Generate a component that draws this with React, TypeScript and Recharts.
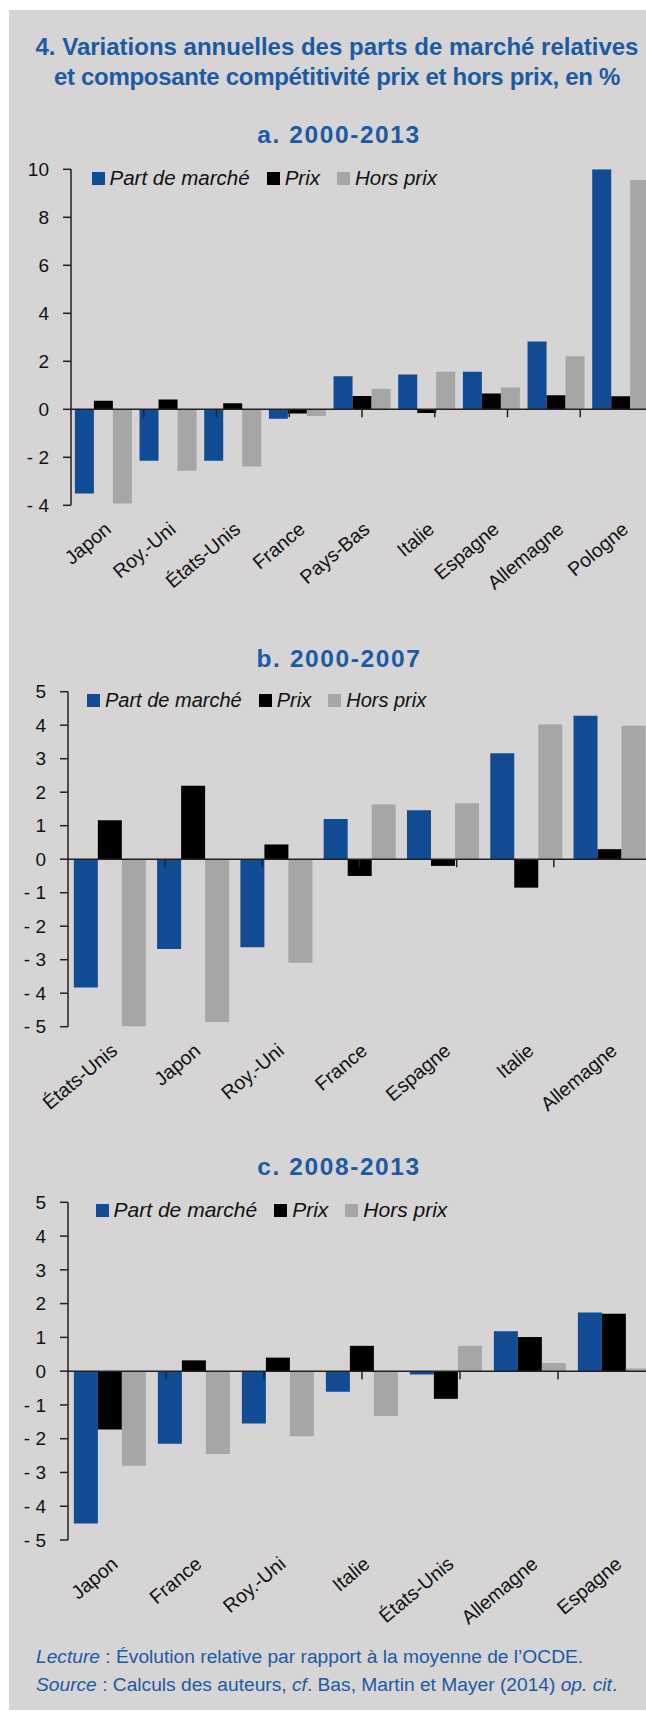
import React from 'react';
import { BarChart, Bar, XAxis, YAxis, ReferenceLine, ReferenceDot, Legend } from 'recharts';

const BLUE = '#114b93';
const BLACK = '#000000';
const GREY = '#a6a6a6';
const TEXT_BLUE = '#1c5aa2';
const BG = '#d6d4d5';
const FONT = '"Liberation Sans", Arial, sans-serif';

// a. 2000-2013
const countriesA = ['Japon', 'Roy.-Uni', 'États-Unis', 'France', 'Pays-Bas', 'Italie', 'Espagne', 'Allemagne', 'Pologne'];
const partA = [-3.51, -2.14, -2.14, -0.39, 1.38, 1.45, 1.56, 2.82, 10.0];
const prixA = [0.36, 0.41, 0.25, -0.17, 0.55, -0.15, 0.66, 0.59, 0.54];
const horsA = [-3.93, -2.56, -2.38, -0.28, 0.86, 1.56, 0.91, 2.21, 9.55];
const ticksA = [-4, -2, 0, 2, 4, 6, 8, 10];

// b. 2000-2007
const countriesB = ['États-Unis', 'Japon', 'Roy.-Uni', 'France', 'Espagne', 'Italie', 'Allemagne'];
const partB = [-3.83, -2.68, -2.63, 1.2, 1.46, 3.16, 4.28];
const prixB = [1.16, 2.19, 0.44, -0.5, -0.2, -0.85, 0.3];
const horsB = [-4.99, -4.86, -3.09, 1.63, 1.67, 4.02, 3.98];
const ticksB = [-5, -4, -3, -2, -1, 0, 1, 2, 3, 4, 5];

// c. 2008-2013
const countriesC = ['Japon', 'France', 'Roy.-Uni', 'Italie', 'États-Unis', 'Allemagne', 'Espagne'];
const partC = [-4.51, -2.15, -1.55, -0.61, -0.1, 1.18, 1.74];
const prixC = [-1.73, 0.32, 0.4, 0.75, -0.82, 1.01, 1.7];
const horsC = [-2.8, -2.45, -1.93, -1.33, 0.75, 0.24, 0.08];
const ticksC = [-5, -4, -3, -2, -1, 0, 1, 2, 3, 4, 5];

const seriesOrder = ['part', 'prix', 'hors'];

const build = (names: string[], part: number[], prix: number[], hors: number[]) =>
  names.map((name, i) => ({ name, part: part[i], prix: prix[i], hors: hors[i] }));

const fmtY = (v: number) => (v < 0 ? `- ${Math.abs(v)}` : `${v}`);

// labels slanted ~40°, ending just under the category
const RotTick = (props: any) => {
  const { x, y, payload } = props;
  return (
    <g transform={`translate(${x + 9},${y + 26})`}>
      <text transform="rotate(-40)" textAnchor="end" fontSize={19.5} fill="#111" fontFamily={FONT}>
        {payload.value}
      </text>
    </g>
  );
};

const makeLegend = (fontSize: number) => (props: any) => {
  const items = [...(props.payload || [])].sort(
    (a: any, b: any) => seriesOrder.indexOf(a.dataKey) - seriesOrder.indexOf(b.dataKey)
  );
  return (
    <div style={{ display: 'flex', alignItems: 'center', height: 24, fontFamily: FONT, fontStyle: 'italic', fontSize, color: '#111', whiteSpace: 'nowrap' }}>
      {items.map((p: any) => (
        <span key={p.value} style={{ display: 'flex', alignItems: 'center', marginRight: 17 }}>
          <span style={{ width: 13, height: 13, background: p.color, marginRight: 5, display: 'inline-block' }} />
          {p.value}
        </span>
      ))}
    </div>
  );
};

interface PanelProps {
  names: string[];
  part: number[];
  prix: number[];
  hors: number[];
  ticks: number[];
  top: number;
  height: number;
  margin: { top: number; right: number; bottom: number; left: number };
  yWidth: number;
  xHeight: number;
  gap: string;
  legendLeft: number;
  legendTop: number;
  legendSize: number;
}

const Panel = ({ names, part, prix, hors, ticks, top, height, margin, yWidth, xHeight, gap, legendLeft, legendTop, legendSize }: PanelProps) => {
  const data = build(names, part, prix, hors);
  const bounds = names.map((_, i) => i + 1);
  return (
    <div style={{ position: 'absolute', left: 0, top }}>
      <BarChart width={660} height={height} data={data} margin={margin} barCategoryGap={gap} barGap={0}>
        <XAxis
          xAxisId="cat"
          dataKey="name"
          axisLine={false}
          tickLine={false}
          tickSize={0}
          tickMargin={0}
          interval={0}
          height={xHeight}
          tick={<RotTick />}
        />
        <XAxis xAxisId="num" type="number" domain={[0, names.length]} hide allowDataOverflow />
        <YAxis
          domain={[ticks[0], ticks[ticks.length - 1]]}
          ticks={ticks}
          interval={0}
          width={yWidth}
          tickFormatter={fmtY}
          axisLine={{ stroke: '#222', strokeWidth: 1.5 }}
          tickLine={{ stroke: '#222', strokeWidth: 1.5 }}
          tickSize={8}
          tickMargin={14}
          tick={{ fill: '#111', fontSize: 19, fontFamily: FONT }}
          allowDataOverflow
        />
        <Legend
          content={makeLegend(legendSize)}
          layout="horizontal"
          verticalAlign="middle"
          align="center"
          wrapperStyle={{ left: legendLeft, top: legendTop, width: 'auto' }}
        />
        <Bar xAxisId="cat" dataKey="part" name="Part de marché" fill={BLUE} isAnimationActive={false} />
        <Bar xAxisId="cat" dataKey="prix" name="Prix" fill={BLACK} isAnimationActive={false} />
        <Bar xAxisId="cat" dataKey="hors" name="Hors prix" fill={GREY} isAnimationActive={false} />
        <ReferenceLine xAxisId="cat" y={0} stroke="#222" strokeWidth={1.5} />
        {bounds.map((b) => (
          <ReferenceDot
            key={b}
            xAxisId="num"
            x={b}
            y={0}
            r={0}
            ifOverflow="visible"
            shape={(p: any) => <line x1={p.cx} y1={p.cy} x2={p.cx} y2={p.cy + 8} stroke="#222" strokeWidth={1.5} />}
          />
        ))}
      </BarChart>
    </div>
  );
};

const subStyle: React.CSSProperties = {
  position: 'absolute',
  left: 6,
  width: 648,
  textAlign: 'center',
  fontFamily: FONT,
  fontWeight: 'bold',
  fontSize: 24.5,
  letterSpacing: 1.6,
  color: TEXT_BLUE,
  lineHeight: '26px',
};

export default function App() {
  return (
    <div style={{ position: 'fixed', left: 0, top: 0, width: 646, height: 1713, overflow: 'hidden', background: '#fff' }}>
      <div style={{ position: 'absolute', left: 9, top: 10, width: 648, height: 1700, background: BG }}>
        <div style={{ ...subStyle, left: 4, top: 22, fontSize: 24, letterSpacing: 0, lineHeight: '30px' }}>
          <div>4. Variations annuelles des parts de marché relatives</div>
          <div style={{ letterSpacing: -0.3 }}>et composante compétitivité prix et hors prix, en %</div>
        </div>
        <div style={{ ...subStyle, top: 112 }}>a. 2000-2013</div>
        <Panel
          names={countriesA}
          part={partA}
          prix={prixA}
          hors={horsA}
          ticks={ticksA}
          top={140}
          height={480}
          margin={{ top: 19.3, right: 16, bottom: 4.7, left: 0 }}
          yWidth={62}
          xHeight={120}
          gap="6%"
          legendLeft={82.5}
          legendTop={16}
          legendSize={20.5}
        />
        <div style={{ ...subStyle, top: 636 }}>b. 2000-2007</div>
        <Panel
          names={countriesB}
          part={partB}
          prix={prixB}
          hors={horsB}
          ticks={ticksB}
          top={660}
          height={480}
          margin={{ top: 21.7, right: 18, bottom: 3.3, left: 0 }}
          yWidth={59}
          xHeight={120}
          gap="7%"
          legendLeft={78}
          legendTop={18}
          legendSize={20}
        />
        <div style={{ ...subStyle, top: 1144 }}>c. 2008-2013</div>
        <Panel
          names={countriesC}
          part={partC}
          prix={prixC}
          hors={horsC}
          ticks={ticksC}
          top={1170}
          height={480}
          margin={{ top: 22.3, right: 13, bottom: 4, left: 0 }}
          yWidth={59}
          xHeight={116}
          gap="7%"
          legendLeft={86.6}
          legendTop={18}
          legendSize={21}
        />
        <div style={{ position: 'absolute', left: 27, top: 1633, fontFamily: FONT, fontSize: 19.2, lineHeight: '28px', color: TEXT_BLUE }}>
          <div>
            <i>Lecture</i> : Évolution relative par rapport à la moyenne de l’OCDE.
          </div>
          <div>
            <i>Source</i> : Calculs des auteurs, <i>cf</i>. Bas, Martin et Mayer (2014) <i>op. cit</i>.
          </div>
        </div>
      </div>
    </div>
  );
}
